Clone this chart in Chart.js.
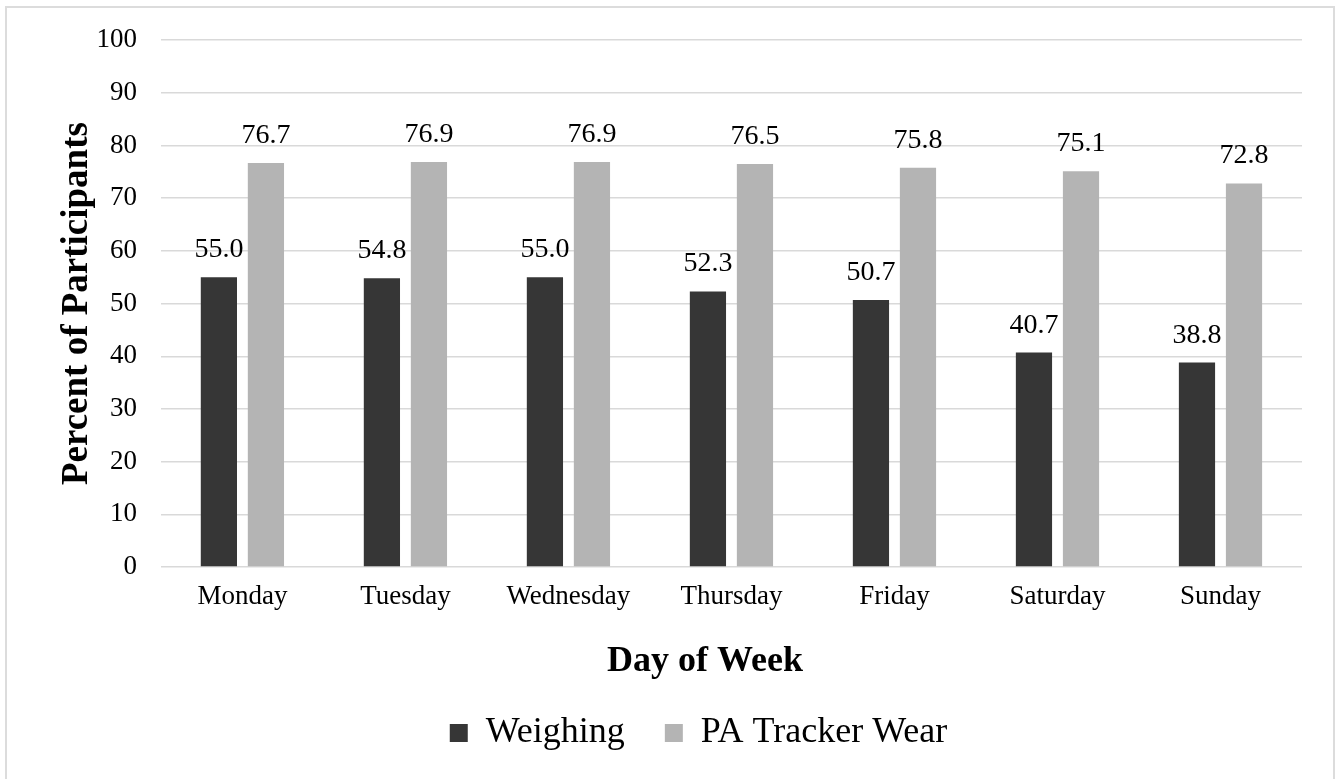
<!DOCTYPE html>
<html>
<head>
<meta charset="utf-8">
<script src="https://cdn.jsdelivr.net/npm/chart.js@4/dist/chart.umd.min.js"></script>
<style>
html,body{margin:0;padding:0;background:#fff;}
#wrap{position:relative;width:1342px;height:779px;}
</style>
</head>
<body>
<div id="wrap"><canvas id="c" width="1342" height="779"></canvas></div>
<script>
const categories = ["Monday","Tuesday","Wednesday","Thursday","Friday","Saturday","Sunday"];
const weighing = [55.0, 54.8, 55.0, 52.3, 50.7, 40.7, 38.8];
const trackerWear = [76.7, 76.9, 76.9, 76.5, 75.8, 75.1, 72.8];
const seriesNames = ["Weighing", "PA Tracker Wear"];
const yTitle = "Percent of Participants";
const xTitle = "Day of Week";

const FONT = '"Liberation Serif", "Times New Roman", serif';

const framePlugin = {
  id: 'frame',
  beforeDraw(chart) {
    const ctx = chart.ctx;
    ctx.save();
    ctx.fillStyle = '#fff';
    ctx.fillRect(0, 0, chart.width, chart.height);
    ctx.strokeStyle = '#dcdcdc';
    ctx.lineWidth = 2;
    ctx.strokeRect(6, 7, 1328, 800);
    ctx.restore();
  }
};

const labelPlugin = {
  id: 'barLabels',
  afterDatasetsDraw(chart) {
    const ctx = chart.ctx;
    ctx.save();
    ctx.font = '28px ' + FONT;
    ctx.fillStyle = '#000';
    ctx.textAlign = 'center';
    ctx.textBaseline = 'alphabetic';
    chart.data.datasets.forEach((ds, i) => {
      const meta = chart.getDatasetMeta(i);
      meta.data.forEach((bar, j) => {
        ctx.fillText(ds.data[j].toFixed(1), bar.x, bar.y - 20);
      });
    });
    ctx.restore();
  }
};

const xTitlePlugin = {
  id: 'xTitle',
  afterDraw(chart) {
    const ctx = chart.ctx;
    ctx.save();
    ctx.font = 'bold 36px ' + FONT;
    ctx.fillStyle = '#000';
    ctx.textAlign = 'center';
    ctx.textBaseline = 'middle';
    ctx.fillText(xTitle, 705, 662);
    ctx.restore();
  }
};

new Chart(document.getElementById('c'), {
  type: 'bar',
  data: {
    labels: categories,
    datasets: [
      { label: seriesNames[0], data: weighing, backgroundColor: '#363636', categoryPercentage: 0.577, barPercentage: 0.77 },
      { label: seriesNames[1], data: trackerWear, backgroundColor: '#b4b4b4', categoryPercentage: 0.577, barPercentage: 0.77 }
    ]
  },
  options: {
    responsive: false,
    animation: false,
    devicePixelRatio: 1,
    layout: { padding: { left: 95, right: 40, top: 40, bottom: 18 } },
    plugins: {
      legend: {
        position: 'bottom',
        labels: {
          font: { family: FONT, size: 36 },
          color: '#000',
          boxWidth: 18,
          boxHeight: 18,
          padding: 40
        }
      },
      tooltip: { enabled: false }
    },
    scales: {
      x: {
        grid: { display: false, drawTicks: false },
        border: { display: false },
        ticks: { font: { family: FONT, size: 27 }, color: '#000', padding: 14, maxRotation: 0 },
        afterFit(scale) { scale.height = 108; }
      },
      y: {
        min: 0, max: 100,
        ticks: { stepSize: 10, font: { family: FONT, size: 27 }, color: '#000', padding: 24 },
        grid: { color: '#d9d9d9', lineWidth: 1.5, drawTicks: false },
        border: { display: false },
        title: { display: true, text: yTitle, font: { family: FONT, size: 37, weight: 'bold' }, color: '#000', padding: { top: -40, bottom: -27 } }
      }
    }
  },
  plugins: [framePlugin, labelPlugin, xTitlePlugin]
});
</script>
</body>
</html>
